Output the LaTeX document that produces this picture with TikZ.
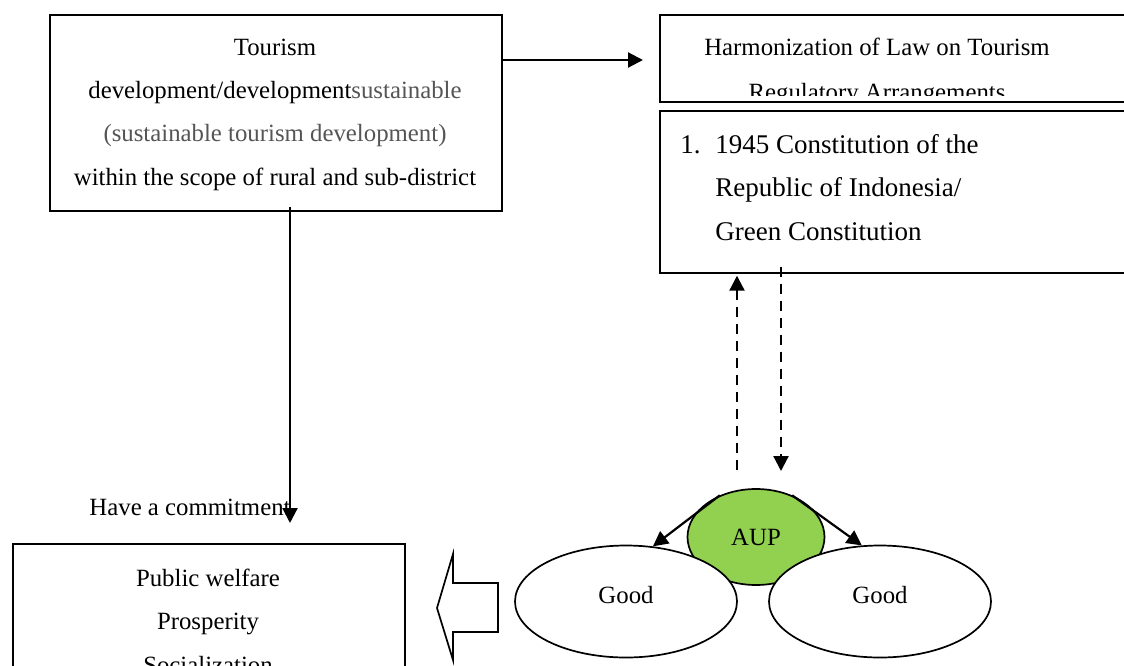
\documentclass[tikz,border=0pt]{standalone}
\usepackage{fontspec}
\setmainfont{Liberation Serif}
\usetikzlibrary{arrows.meta,shapes.geometric,positioning}
\definecolor{aupgreen}{RGB}{146,208,80}
\definecolor{softgray}{RGB}{85,85,85}
\tikzset{
  frame/.style={draw,line width=0.85pt,rectangle,inner sep=0pt},
  blob/.style={draw,ellipse,line width=0.85pt,inner sep=0pt,fill=white,
    font=\fontsize{12.4}{14}\selectfont},
  bodytext/.style={font=\fontsize{12.4}{21.6}\selectfont,align=center,inner sep=0pt},
  lawtext/.style={font=\fontsize{13.5}{21.75}\selectfont,align=left,inner sep=0pt},
  arr/.style={line width=1.1pt,-{Triangle[length=7.5pt,width=7.5pt]}},
  dasharr/.style={arr,dash pattern=on 5pt off 3.5pt},
}

\begin{document}
\begin{tikzpicture}[x=0.5pt,y=-0.5pt]
\clip (0,0) rectangle (1124,665);

% left column
\node[frame,minimum width=226pt,minimum height=98pt,anchor=north west] (devbox) at (49,14) {};
\node[bodytext,anchor=base] (devtxt) at (275,185)
  {Tourism\\development/development{\color{softgray}sustainable}\\
   {\color{softgray}(sustainable tourism development)}\\within the scope of rural and sub-district};
\node[bodytext,anchor=base] (committxt) at (190,515) {Have a commitment};
\node[frame,minimum width=196pt,minimum height=90pt,anchor=north west] (welfare) at (12,543) {};
\node[bodytext,anchor=base] (welfaretxt) at (208,673) {Public welfare\\Prosperity\\Socialization};

% right column
\node[frame,minimum width=238pt,minimum height=43.5pt,anchor=north west] (harm) at (659,14) {};
\node[bodytext,anchor=base] (harmtxt) at (877,55) {Harmonization of Law on Tourism};
\begin{scope}
  \clip (harm.north west) rectangle (1124,95);
  \node[bodytext,anchor=base] (regtxt) at (877,100) {Regulatory Arrangements};
\end{scope}
\node[frame,minimum width=238pt,minimum height=81pt,anchor=north west] (const) at (659,110) {};
\node[lawtext,anchor=base west] (consttxt) at (680,240)
  {\makebox[17.5pt][l]{1.}1945 Constitution of the\\
   \hspace*{17.5pt}Republic of Indonesia/\\
   \hspace*{17.5pt}Green Constitution};

% principles
\node[blob,fill=aupgreen,minimum width=68.5pt,minimum height=48pt] (aup) at (756,537) {AUP};
\node[blob,text depth=6.25pt,minimum width=111pt,minimum height=56pt] (goodl) at (626,601.5) {Good};
\node[blob,text depth=6.25pt,minimum width=111pt,minimum height=56pt] (goodr) at (880,601.5) {Good};

% connectors
\coordinate (harmin) at (643,60);
\coordinate (commitend) at (290,523);
\coordinate (upstart) at (737,470);
\coordinate (downend) at (781,471);
\draw[arr] (devbox.east |- harmin) -- (harmin);
\draw[arr] ([yshift=2.5pt]devbox.south -| commitend) -- (commitend);
\draw[dasharr] (upstart) -- ([yshift=-1pt]upstart |- const.south);
\draw[dasharr] ([yshift=3.5pt]const.south -| downend) -- (downend);
\draw[arr] (aup.131) -- (goodl.64);
\draw[arr] (aup.49) -- (goodr.108);

% hollow arrow towards welfare
\draw[line width=0.85pt] (498,583) -- (453,583) -- (453,554) -- (437,608)
  -- (453,660) -- (453,632) -- (498,632) -- cycle;
\end{tikzpicture}
\end{document}
